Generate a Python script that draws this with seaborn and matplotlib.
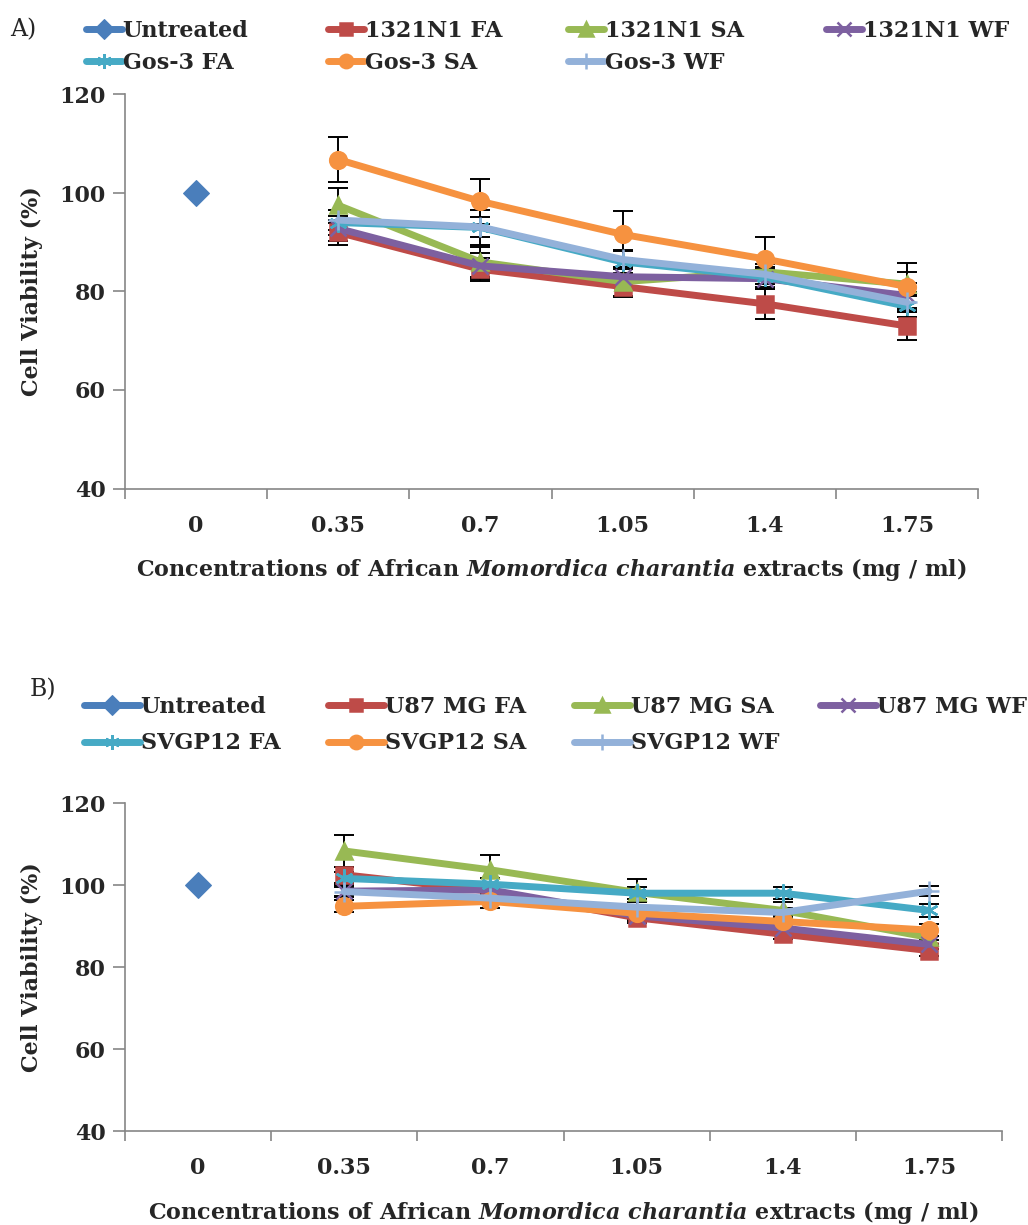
import matplotlib
matplotlib.use("Agg")
import matplotlib.pyplot as plt
import seaborn as sns

# Concentrations (categorical x axis)
concentrations = ["0", "0.35", "0.7", "1.05", "1.4", "1.75"]
treated_conc = concentrations[1:]
untreated_value = [100]

# Panel A - 1321N1 and Gos-3 cells
a_labels = ["Untreated", "1321N1 FA", "1321N1 SA", "1321N1 WF",
            "Gos-3 FA", "Gos-3 SA", "Gos-3 WF"]
a_1321n1_fa = [92.0, 84.5, 81.0, 77.5, 73.0]
a_1321n1_sa = [97.5, 86.0, 82.0, 84.0, 81.5]
a_1321n1_wf = [92.8, 85.2, 83.0, 82.6, 79.2]
a_gos3_fa = [94.0, 93.0, 86.0, 83.0, 77.0]
a_gos3_sa = [106.8, 98.3, 91.6, 86.6, 81.0]
a_gos3_wf = [94.5, 93.1, 86.5, 83.5, 77.8]
a_err_fa = [2.6, 2.3, 2.2, 3.0, 2.9]
a_err_sa = [3.6, 3.0, 3.0, 2.5, 2.5]
a_err_wf = [2.5, 2.6, 2.0, 2.0, 2.5]
a_err_gfa = [2.5, 3.5, 2.2, 2.0, 2.2]
a_err_gsa = [4.6, 4.6, 4.8, 4.4, 4.8]
a_err_gwf = [2.0, 2.0, 2.0, 2.0, 2.0]

# Panel B - U87 MG and SVGP12 cells
b_labels = ["Untreated", "U87 MG FA", "U87 MG SA", "U87 MG WF",
            "SVGP12 FA", "SVGP12 SA", "SVGP12 WF"]
b_u87_fa = [102.5, 98.5, 92.0, 88.0, 84.0]
b_u87_sa = [108.3, 103.7, 98.2, 93.8, 87.2]
b_u87_wf = [98.5, 98.8, 92.5, 89.5, 85.5]
b_svgp_fa = [101.6, 100.2, 98.0, 98.0, 93.8]
b_svgp_sa = [94.8, 96.0, 93.1, 91.1, 89.0]
b_svgp_wf = [98.4, 96.8, 94.6, 93.3, 98.5]
b_err_fa = [2.0, 1.5, 1.2, 1.2, 1.2]
b_err_sa = [4.0, 3.5, 3.2, 2.0, 1.5]
b_err_wf = [1.5, 1.5, 1.2, 1.2, 1.2]
b_err_gfa = [1.5, 1.5, 1.5, 1.5, 1.5]
b_err_gsa = [1.5, 1.5, 1.5, 1.5, 1.5]
b_err_gwf = [1.2, 1.2, 1.2, 1.2, 1.2]

# Excel-like series styling
colors = ["#4A7EBB", "#BE4B48", "#98B954", "#7D60A0", "#46AAC5", "#F69240", "#93B1D9"]
markers = ["D", "s", "^", "x", (6, 2, 0), "o", "+"]
marker_sizes = [13, 11, 12, 12, 13, 12, 15]

sns.set_theme(style="ticks")
plt.rcParams["font.family"] = ["DejaVu Serif"]
plt.rcParams["font.weight"] = "bold"
plt.rcParams["mathtext.fontset"] = "custom"
plt.rcParams["mathtext.rm"] = "DejaVu Serif:bold"
plt.rcParams["mathtext.it"] = "DejaVu Serif:italic:bold"

XLABEL = "Concentrations of African $\\mathit{Momordica\\ charantia}$ extracts (mg / ml)"
W, H = 1028, 1225


def draw_panel(fig, rect, labels, series, errors, leg_cols, leg_top, leg_kw, tag, tag_pos):
    ax = fig.add_axes(rect)

    # Untreated control first so "0" is the first category
    sns.lineplot(x=concentrations[:1], y=untreated_value, ax=ax, color=colors[0],
                 marker=markers[0], markersize=marker_sizes[0],
                 markeredgecolor=colors[0], linewidth=5, label=labels[0])

    for i, (vals, err) in enumerate(zip(series, errors), start=1):
        ax.errorbar(treated_conc, vals, yerr=err, fmt="none", ecolor="black",
                    elinewidth=1.4, capsize=7, capthick=1.4, zorder=1)
        sns.lineplot(x=treated_conc, y=vals, ax=ax, color=colors[i], sort=False,
                     marker=markers[i], markersize=marker_sizes[i],
                     markeredgecolor=colors[i], markeredgewidth=1.8,
                     linewidth=5, label=labels[i], zorder=2 + i)

    ax.set_xlim(-0.5, 5.5)
    ax.set_ylim(40, 120)
    ax.set_yticks([40, 60, 80, 100, 120])
    ax.set_xticks(range(len(concentrations)))
    ax.set_xticklabels(concentrations)
    ax.set_xticks([i - 0.5 for i in range(len(concentrations) + 1)], minor=True)
    ax.tick_params(axis="x", which="major", length=0, pad=19, labelsize=16)
    ax.tick_params(axis="x", which="minor", length=7, width=1.2, color="#868686")
    ax.tick_params(axis="y", length=9, width=1.2, color="#868686", pad=5, labelsize=16)
    for lab in ax.get_xticklabels() + ax.get_yticklabels():
        lab.set_fontweight("bold")

    sns.despine(ax=ax)
    for side in ["left", "bottom"]:
        ax.spines[side].set_color("#868686")
        ax.spines[side].set_linewidth(1.2)

    ax.set_ylabel("Cell Viability (%)", fontsize=16, fontweight="bold", labelpad=12)
    ax.set_xlabel(XLABEL, fontsize=16, fontweight="bold", labelpad=14)

    # legend laid out row by row: one small legend per column
    handles, labs = ax.get_legend_handles_labels()
    ax.get_legend().remove()
    for c, x0 in enumerate(leg_cols):
        idx = [j for j in (c, c + 4) if j < len(handles)]
        fig.legend([handles[j] for j in idx], [labs[j] for j in idx],
                   loc="upper left", bbox_to_anchor=(x0 / W, 1 - leg_top / H),
                   frameon=False, borderpad=0, borderaxespad=0, markerscale=0.8,
                   handletextpad=0.05, prop={"weight": "bold", "size": 16}, **leg_kw)

    fig.text(tag_pos[0] / W, 1 - tag_pos[1] / H, tag, fontsize=17,
             fontweight="normal", va="center", ha="left")
    return ax


fig = plt.figure(figsize=(W / 100, H / 100), dpi=100)

draw_panel(fig, [125 / W, 1 - 488.5 / H, 853 / W, 394 / H],
           a_labels,
           [a_1321n1_fa, a_1321n1_sa, a_1321n1_wf, a_gos3_fa, a_gos3_sa, a_gos3_wf],
           [a_err_fa, a_err_sa, a_err_wf, a_err_gfa, a_err_gsa, a_err_gwf],
           [86, 328, 568, 826], 20, {"handlelength": 1.6, "labelspacing": 0.45},
           "A)", (10, 30))

draw_panel(fig, [125 / W, 1 - 1131 / H, 877 / W, 328 / H],
           b_labels,
           [b_u87_fa, b_u87_sa, b_u87_wf, b_svgp_fa, b_svgp_sa, b_svgp_wf],
           [b_err_fa, b_err_sa, b_err_wf, b_err_gfa, b_err_gsa, b_err_gwf],
           [84, 328, 574, 820], 696, {"handlelength": 2.5, "labelspacing": 0.65},
           "B)", (30, 690))

fig.savefig("out.png", dpi=100)
